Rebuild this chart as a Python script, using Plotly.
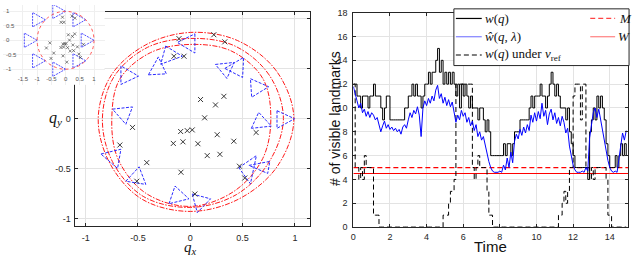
import numpy as np
import plotly.graph_objects as go

# ---------------- right panel data ----------------
t_start, t_step = 0.0, 0.1
w_q = [12, 12, 11, 11, 10, 11, 11, 11, 10, 11,
       11, 12, 11, 11, 11, 10, 9, 10, 11, 11,
       9, 9, 9, 9, 9, 9, 9, 9, 10, 10,
       11, 11, 12, 11, 12, 11, 11, 10, 11, 12,
       12, 13, 12, 13, 13, 14, 15, 13, 14, 12,
       13, 12, 13, 12, 13, 12, 11, 12, 10, 12,
       11, 12, 11, 10, 11, 10, 10, 10, 9, 10,
       10, 9, 8, 9, 8, 6, 6, 6, 6, 6,
       6, 6, 7, 6, 7, 7, 6, 7, 8, 8,
       8, 9, 9, 9, 9, 9, 10, 11, 10, 11,
       11, 11, 12, 11, 11, 10, 11, 12, 13, 12,
       11, 12, 11, 10, 10, 10, 9, 10, 8, 7,
       6, 5, 5, 5, 5, 5, 5, 5, 4, 8,
       9, 10, 9, 11, 10, 11, 10, 9, 7, 6,
       5, 5, 5, 6, 5, 6, 7, 6, 7, 6]
w_hat = [11.8, 11.3, 10.6, 10.0, 10.4, 9.6, 9.9, 9.3, 9.7, 9.2,
         9.6, 9.4, 9.0, 9.2, 8.6, 8.0, 8.5, 8.9, 8.3, 8.6,
         8.2, 8.4, 8.1, 8.3, 8.0, 8.2, 7.8, 8.4, 8.6, 8.3,
         9.0, 9.6, 9.2, 9.8, 9.5, 10.1, 9.4, 7.6, 10.0, 10.6,
         10.2, 10.8, 10.4, 11.0, 10.6, 11.5, 11.9, 10.8, 11.2, 10.4,
         10.9, 10.2, 10.7, 10.1, 10.5, 9.6, 8.8, 9.4, 9.0, 9.8,
         9.3, 9.6, 8.8, 9.2, 8.5, 8.9, 8.1, 8.6, 7.6, 8.0,
         7.3, 7.6, 6.8, 6.2, 5.5, 5.0, 4.7, 4.6, 4.6, 4.6,
         4.7, 4.6, 5.2, 4.8, 5.8, 5.0, 6.3, 5.4, 7.2, 7.8,
         7.4, 8.2, 7.7, 8.4, 7.9, 8.6, 8.1, 9.4, 8.8, 9.6,
         8.9, 9.7, 9.1, 10.4, 9.3, 9.8, 8.6, 9.5, 9.9, 9.0,
         9.6, 8.7, 9.2, 8.5, 9.3, 8.8, 7.9, 8.3, 6.8, 6.0,
         5.2, 4.8, 4.6, 4.6, 4.6, 4.7, 4.6, 5.0, 4.7, 7.5,
         8.8, 9.6, 10.0, 9.2, 9.9, 9.0, 8.3, 7.4, 6.5, 5.6,
         5.0, 4.7, 4.6, 4.7, 4.6, 5.6, 6.8, 7.9, 7.3, 8.1]
w_ref = [12, 5, 5, 4, 5, 4, 6, 5, 5, 5,
         5, 1, 1, 1, 0, 0, 0, 0, 0, 0,
         0, 0, 0, 0, 0, 0, 0, 0, 0, 0,
         0, 0, 0, 0, 0, 0, 0, 0, 0, 0,
         0, 0, 0, 0, 0, 0, 0, 0, 0, 1,
         1, 1, 2, 3, 3, 4, 12, 12, 12, 12,
         12, 12, 12, 12, 12, 5, 4, 5, 6, 5,
         5, 5, 5, 3, 1, 1, 0, 0, 0, 0,
         0, 0, 0, 0, 0, 0, 0, 0, 0, 0,
         0, 0, 0, 0, 0, 0, 0, 0, 0, 0,
         0, 0, 0, 0, 0, 0, 0, 0, 0, 0,
         0, 0, 1, 1, 2, 3, 2, 3, 5, 5,
         11, 12, 12, 12, 9, 12, 12, 5, 5, 4,
         5, 4, 5, 5, 5, 5, 5, 5, 4, 1,
         1, 0, 0, 0, 0, 0, 0, 0, 0, 0]
M_level = 5
W_level = 4.5
time_ticks = [0, 2, 4, 6, 8, 10, 12, 14]
count_ticks = [0, 2, 4, 6, 8, 10, 12, 14, 16, 18]

# ---------------- left panel data ----------------
landmark_x = [-0.108, 0.225, 0.33, -0.156, -0.06, 0.098, 0.321, 0.241, 0.137, -0.552,
              -0.092, -0.029, 0.019, 0.257, 0.629, 0.416, -0.162, -0.07, 0.073, -0.673,
              0.162, 0.283, -0.416, -0.089, -0.511, 0.47, 0.521, 0.044]
landmark_y = [0.798, 0.837, 0.766, 0.622, 0.622, 0.189, 0.221, 0.135, 0.006, -0.09,
              -0.131, -0.122, -0.115, -0.163, -0.141, -0.228, -0.25, -0.234, -0.253, -0.266,
              -0.372, -0.359, -0.442, -0.538, -0.628, -0.478, -0.596, -0.756]
traj_angles_deg = [0, 30, 60, 90, 120, 150, 180, 210, 240, 270, 300, 330]
traj_r_outer = [0.99, 0.95, 0.90, 0.86, 0.85, 0.87, 0.88, 0.89, 0.93, 0.93, 0.93, 0.96]
traj_r_mid = [0.89, 0.87, 0.84, 0.80, 0.82, 0.84, 0.84, 0.86, 0.90, 0.89, 0.88, 0.87]
traj_r_inner = [0.77, 0.80, 0.78, 0.74, 0.76, 0.78, 0.75, 0.80, 0.86, 0.88, 0.84, 0.80]
fov_tri_x = [[0.044, 0.044, -0.124], [-0.235, -0.076, -0.283], [-0.40, -0.229, -0.305],
             [-0.663, -0.663, -0.495], [-0.743, -0.552, -0.616], [-0.854, -0.663, -0.695],
             [-0.616, -0.489, -0.425], [-0.203, -0.146, -0.013], [0.019, 0.194, 0.067],
             [0.464, 0.632, 0.575], [0.56, 0.76, 0.74], [0.584, 0.654, 0.775],
             [0.829, 0.997, 0.829], [0.575, 0.749, 0.587], [0.24, 0.42, 0.35],
             [0.33, 0.51, 0.50]]
fov_tri_y = [[0.846, 0.654, 0.760], [0.724, 0.622, 0.542], [0.436, 0.446, 0.615],
             [0.526, 0.34, 0.423], [0.093, 0.115, -0.058], [-0.356, -0.308, -0.50],
             [-0.628, -0.484, -0.66], [-0.853, -0.676, -0.804], [-0.756, -0.804, -0.942],
             [-0.493, -0.372, -0.654], [-0.47, -0.43, -0.55], [-0.099, 0.061, -0.077],
             [0.077, -0.003, -0.099], [0.397, 0.317, 0.212], [0.54, 0.56, 0.40],
             [0.50, 0.61, 0.41]]
inset_apex_x = [1.0, 0.71, 0.0, -0.71, -1.0, -0.71, 0.0, 0.71]
inset_apex_y = [0.0, 0.71, 1.0, 0.71, 0.0, -0.71, -1.0, -0.71]
inset_fov_depth = 0.45
inset_fov_half = 0.25
inset_circle_r = 1.0
xy_ticks = [-1, -0.5, 0, 0.5, 1]
inset_xticks = [-1.5, -1, -0.5, 0, 0.5, 1]

W, H = 640, 259
def px(x): return x / W
def py(y): return 1 - y / H

AXC = '#262626'
GRID = '#e3e3e3'
SANS = 'Liberation Sans, Arial, sans-serif'
SERIF = 'Liberation Serif, Times New Roman, serif'

fig = go.Figure()

# ---- main left plot ----
ang = np.deg2rad(traj_angles_deg + [traj_angles_deg[0]])
for radii in (traj_r_outer, traj_r_mid, traj_r_inner):
    r = np.array(radii + [radii[0]])
    fig.add_trace(go.Scatter(x=r * np.cos(ang), y=r * np.sin(ang), mode='lines',
                             line=dict(color='#ff1a1a', width=1, shape='spline',
                                       dash='5px,1.5px,1.5px,1.5px'),
                             xaxis='x', yaxis='y', hoverinfo='skip'))
tx, ty = [], []
for xs, ys in zip(fov_tri_x, fov_tri_y):
    tx += xs + [xs[0], None]
    ty += ys + [ys[0], None]
fig.add_trace(go.Scatter(x=tx, y=ty, mode='lines',
                         line=dict(color='#2b2bff', width=1, dash='3px,1.5px'),
                         xaxis='x', yaxis='y'))
fig.add_trace(go.Scatter(x=landmark_x, y=landmark_y, mode='markers',
                         marker=dict(symbol='x-thin', size=5, line=dict(color='#222', width=0.9)),
                         xaxis='x', yaxis='y'))

# ---- right plot ----
time = [round(t_start + i * t_step, 2) for i in range(len(w_q))]
fig.add_trace(go.Scatter(x=[0, 15], y=[W_level, W_level], mode='lines',
                         line=dict(color='#ff0000', width=1.2), xaxis='x2', yaxis='y2'))
fig.add_trace(go.Scatter(x=[0, 15], y=[M_level, M_level], mode='lines',
                         line=dict(color='#ff0000', width=1.2, dash='5px,3px'), xaxis='x2', yaxis='y2'))
fig.add_trace(go.Scatter(x=time, y=w_ref, mode='lines',
                         line=dict(color='black', width=1, dash='5px,3px', shape='hv'),
                         xaxis='x2', yaxis='y2'))
fig.add_trace(go.Scatter(x=time, y=w_q, mode='lines',
                         line=dict(color='black', width=1, shape='hv'), xaxis='x2', yaxis='y2'))
fig.add_trace(go.Scatter(x=time, y=w_hat, mode='lines',
                         line=dict(color='#0000ff', width=1), xaxis='x2', yaxis='y2'))

# ---- inset ----
ix, iy = [], []
for ax_, ay_ in zip(inset_apex_x, inset_apex_y):
    ix += [ax_, ax_ - inset_fov_depth, ax_ - inset_fov_depth, ax_, None]
    iy += [ay_, ay_ + inset_fov_half, ay_ - inset_fov_half, ay_, None]
fig.add_trace(go.Scatter(x=ix, y=iy, mode='lines',
                         line=dict(color='#4d4dff', width=1, dash='2px,1px'),
                         xaxis='x3', yaxis='y3'))
fig.add_trace(go.Scatter(x=landmark_x, y=landmark_y, mode='markers',
                         marker=dict(symbol='x-thin', size=3, line=dict(color='#333', width=0.6)),
                         xaxis='x3', yaxis='y3'))

axcommon = dict(showline=True, linecolor=AXC, linewidth=1, mirror='ticks', ticks='inside',
                ticklen=3, tickcolor=AXC, showgrid=True, gridcolor=GRID, gridwidth=1,
                zeroline=False, tickfont=dict(family=SANS, size=9, color=AXC))
insetax = dict(ticklabelposition='inside', showgrid=True, gridcolor='#efefef', zeroline=False,
               showline=False, ticks='', tickfont=dict(family=SANS, size=6, color='#555'))

fig.update_layout(
    width=W, height=H, margin=dict(l=0, r=0, t=0, b=0),
    paper_bgcolor='white', plot_bgcolor='white', showlegend=False,
    xaxis=dict(anchor='y', domain=[px(72), px(308)], range=[-1.105, 1.14], tickvals=xy_ticks,
               ticktext=['-1', '-0.5', '0', '0.5', '1'], ticklabelstandoff=3, **axcommon),
    yaxis=dict(anchor='x', domain=[py(230), py(7)], range=[-1.077, 1.067], tickvals=xy_ticks,
               ticktext=['-1', '-0.5', '0', '', ''], ticklabelstandoff=1, **axcommon),
    xaxis2=dict(anchor='y2', domain=[px(352), px(628)], range=[0, 15], tickvals=time_ticks,
                ticklabelstandoff=1, **axcommon),
    yaxis2=dict(anchor='x2', domain=[py(231), py(8)], range=[0, 18], tickvals=count_ticks,
                ticklabelstandoff=3, **axcommon),
    xaxis3=dict(anchor='y3', domain=[0, px(102)], range=[-2.2, 1.37], tickvals=inset_xticks,
                ticktext=['-1.5', '-1', '-0.5', '0', '0.5', '1'], **insetax),
    yaxis3=dict(anchor='x3', domain=[py(83), 1], range=[-1.54, 1.22], tickvals=[-1, -0.5, 0, 0.5, 1],
                ticktext=['-1', '-0.5', '0', '0.5', '1'], **insetax),
)

# inset circle
fig.add_shape(type='circle', xref='x3', yref='y3', x0=-inset_circle_r, y0=-inset_circle_r,
              x1=inset_circle_r, y1=inset_circle_r, line=dict(color='#ff5555', width=1, dash='dot'))

# axis titles
ann = []
ann.append(dict(x=px(188), y=py(253), text='<i>q</i><sub><i>x</i></sub>',
                font=dict(family=SERIF, size=15, color='#111')))
ann.append(dict(x=px(53), y=py(118), text='<i>q</i><sub><i>y</i></sub>',
                font=dict(family=SERIF, size=16, color='#111')))
ann.append(dict(x=px(490), y=py(251), text='Time', font=dict(family=SANS, size=15, color='#111')))
ann.append(dict(x=px(334), y=py(118), text='# of visible landmarks', textangle=-90,
                font=dict(family=SANS, size=14, color='#111')))

# legend
fig.add_shape(type='rect', xref='paper', yref='paper', x0=px(453), x1=px(629), y0=py(63), y1=py(4),
              fillcolor='white', line=dict(color=AXC, width=1), layer='above')
leg = [
    (455, 481, 14, 'black', 'solid', '<i>w</i>(<i>q</i>)', 482),
    (455, 481, 33, '#8080ff', 'solid', '<i>ŵ</i>(<i>q</i>, <i>λ</i>)', 482),
    (455, 481, 52, 'black', '5px,3px', '<i>w</i>(<i>q</i>) under <i>v</i><sub>ref</sub>', 482),
    (590, 615, 14, '#ff4444', '5px,3px', '<i>M</i>', 617),
    (590, 615, 33, '#ff8080', 'solid', '<i>W</i>', 616),
]
for x0, x1, yy, col, dash, txt, tx0 in leg:
    fig.add_shape(type='line', xref='paper', yref='paper', x0=px(x0), x1=px(x1), y0=py(yy), y1=py(yy),
                  line=dict(color=col, width=1.2, dash=dash), layer='above')
    ann.append(dict(x=px(tx0), y=py(yy), text=txt, xanchor='left',
                    font=dict(family=SERIF, size=13, color='#111')))

for a in ann:
    a.setdefault('xanchor', 'center')
    fig.add_annotation(xref='paper', yref='paper', yanchor='middle', showarrow=False, **a)

fig.write_html('out.html', config={'displayModeBar': False},
               post_script="document.body.style.margin='0';")
